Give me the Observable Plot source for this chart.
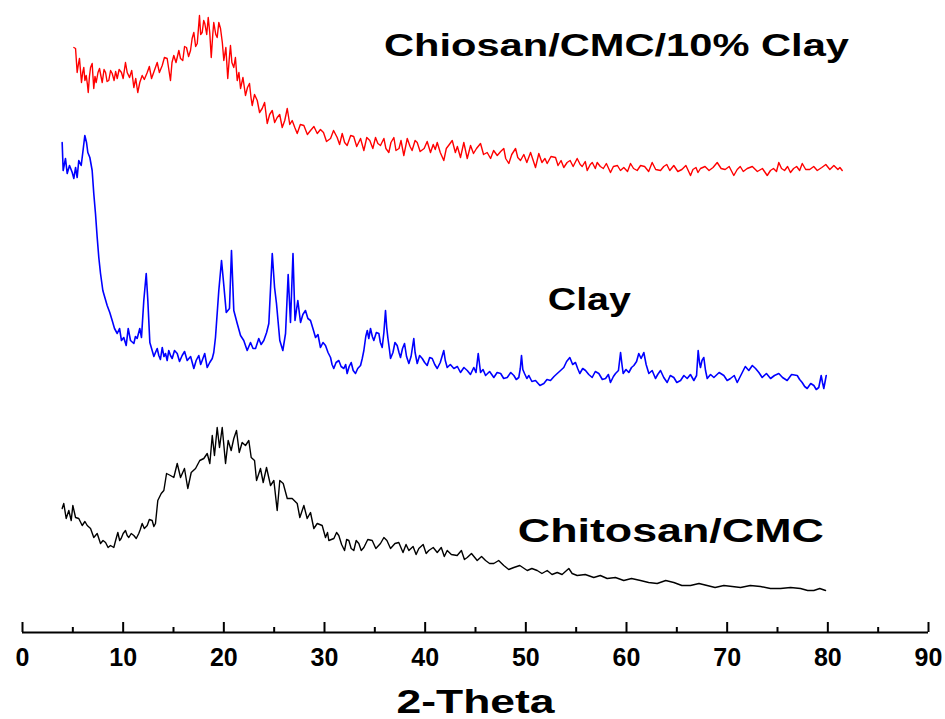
<!DOCTYPE html>
<html><head><meta charset="utf-8">
<script src="https://cdn.jsdelivr.net/npm/d3@7"></script>
<script src="https://cdn.jsdelivr.net/npm/@observablehq/plot@0.6"></script>
<style>body{margin:0;background:#fff;} #chart svg{display:block;}</style>
</head><body><div id="chart"></div>
<script>
// 2-theta (deg), intensity (a.u., stacked as displayed)
const composite = [[5.10,585],[5.27,584],[5.43,560],[5.55,568],[5.66,574],[5.86,550],[5.98,560],[6.09,565],[6.2,552],[6.33,557],[6.45,548],[6.53,540],[6.65,556],[6.76,565],[6.92,569],[7.0,556],[7.08,544],[7.2,556],[7.32,550],[7.5,560],[7.65,564],[7.8,556],[7.92,550],[8.1,563],[8.25,560],[8.4,551],[8.57,552],[8.75,562],[8.91,559],[9.1,552],[9.25,561],[9.41,554],[9.6,563],[9.83,560],[10.0,554],[10.23,570],[10.4,560],[10.63,555],[10.85,562],[11.06,545],[11.25,554],[11.45,540],[11.65,550],[11.89,557],[12.1,553],[12.39,560],[12.6,566],[12.82,554],[13.1,562],[13.38,570],[13.6,560],[13.88,567],[14.1,575],[14.37,574],[14.55,562],[14.70,552],[14.85,570],[15.03,577],[15.25,570],[15.53,582],[15.7,574],[15.92,572],[16.1,586],[16.29,585],[16.5,576],[16.69,582],[16.85,594],[17.02,600],[17.2,586],[17.36,589],[17.58,617],[17.7,598],[17.85,600],[18.0,612],[18.11,609],[18.3,598],[18.45,615],[18.6,600],[18.75,575],[18.9,598],[19.00,610],[19.2,598],[19.34,595],[19.5,610],[19.67,604],[19.85,590],[20.00,572],[20.2,585],[20.39,554],[20.55,575],[20.66,587],[20.8,570],[20.99,565],[21.15,575],[21.33,552],[21.5,560],[21.66,544],[21.9,555],[22.15,537],[22.35,545],[22.55,549],[22.7,535],[22.82,527],[23.05,538],[23.32,532],[23.55,520],[23.81,524],[24.05,530],[24.31,509],[24.55,518],[24.81,522],[25.05,510],[25.30,515],[25.55,518],[25.80,505],[26.05,512],[26.30,524],[26.55,508],[26.79,512],[27.05,505],[27.29,499],[27.6,508],[27.95,507],[28.3,498],[28.61,502],[28.95,506],[29.28,499],[29.6,503],
[29.9,500],[30.2,491],[30.6,494],[30.9,502],[31.26,495],[31.5,488],[31.76,499],[32.0,490],[32.25,487],[32.6,497],[32.9,496],[33.2,486],[33.58,494],[33.91,482],[34.2,495],[34.5,492],[34.8,484],[35.07,495],[35.3,489],[35.56,487],[35.9,494],[36.1,484],[36.39,480],[36.6,490],[36.89,495],[37.1,482],[37.4,484],[37.6,492],[37.88,477],[38.22,494],[38.5,486],[38.7,482],[39.0,492],[39.21,490],[39.5,481],[39.9,484],[40.2,491],[40.53,480],[40.8,488],[41.0,483],[41.20,490],[41.5,480],[41.85,472],[42.1,484],[42.4,488],[42.69,492],[43.0,480],[43.2,486],[43.51,475],[43.84,490],[44.18,474],[44.51,487],[44.8,479],[45.1,484],[45.50,489],[45.8,478],[46.16,480],[46.5,474],[46.8,482],[47.16,477],[47.5,481],[47.81,484],[48.0,474],[48.31,469],[48.6,478],[48.98,484],[49.2,475],[49.47,472],[49.8,478],[50.1,470],[50.47,480],[50.7,473],[50.96,465],[51.29,479],[51.6,470],[51.9,474],[52.12,469],[52.5,476],[52.95,475],[53.2,467],[53.5,472],[53.77,465],[54.1,470],[54.4,472],[54.7,466],[55.10,474],[55.4,468],[55.6,466],[55.9,471],[56.10,462],[56.4,468],[56.6,470],[56.9,464],[57.09,470],[57.4,466],[57.7,464],[58.0,469],[58.41,460],[58.7,466],[59.1,467],[59.4,462],[59.73,465],[60.1,461],[60.4,469],[60.7,464],[61.06,462],[61.4,467],[61.8,466],[62.2,461],[62.55,470],[62.9,463],[63.38,462],[63.7,466],[64.0,468],[64.3,462],[64.70,467],[65.1,461],[65.5,463],[65.9,467],[66.36,457],[66.6,463],[66.9,465],[67.1,460],[67.35,464],[67.8,466],[68.2,462],[68.6,465],[69.01,470],[69.4,464],[69.8,463],[70.2,466],[70.66,457],[71.0,463],[71.3,466],[71.6,461],[71.99,464],[72.5,466],[73.0,461],[73.5,464],[73.98,457],[74.3,462],[74.6,464],[74.9,461],[75.13,470],[75.4,464],[75.7,462],[76.0,466],[76.29,460],[76.6,464],[76.9,466],[77.2,462],[77.46,469],[77.8,463],[78.2,463],[78.6,466],[78.95,462],[79.4,465],[79.8,468],[80.2,463],[80.60,467],[81.0,463],[81.2,465],[81.43,462]];

const clay = [[3.94,490],[4.04,462],[4.27,474],[4.44,459],[4.67,467],[4.94,460],[5.10,454],[5.27,465],[5.43,455],[5.59,472],[5.83,467],[5.99,480],[6.19,497],[6.36,490],[6.49,480],[6.69,475],[6.92,462],[7.08,439],[7.25,419],[7.42,395],[7.58,375],[7.75,359],[7.98,342],[8.18,335],[8.41,327],[8.67,320],[8.91,312],[9.14,304],[9.41,299],[9.64,304],[9.83,292],[10.06,295],[10.30,287],[10.50,304],[10.73,292],[11.06,289],[11.22,296],[11.39,294],[11.65,304],[11.82,295],[12.05,332],[12.29,359],[12.45,332],[12.65,290],[12.88,282],[13.05,276],[13.21,280],[13.38,284],[13.54,277],[13.7,273],[13.88,285],[14.05,276],[14.21,279],[14.37,272],[14.53,282],[14.7,277],[14.87,274],[15.1,282],[15.37,279],[15.6,271],[15.86,277],[16.1,281],[16.36,272],[16.7,276],[17.02,264],[17.25,272],[17.51,277],[17.7,268],[17.85,272],[18.1,279],[18.35,265],[18.6,270],[18.85,274],[19.0,280],[19.17,295],[19.50,342],[19.77,372],[20.00,347],[20.24,320],[20.56,324],[20.76,382],[20.99,322],[21.33,309],[21.66,297],[21.98,292],[22.32,282],[22.65,290],[22.9,284],[23.15,284],[23.47,294],[23.7,288],[23.97,292],[24.25,300],[24.47,309],[24.81,379],[25.04,345],[25.23,329],[25.56,292],[25.86,282],[26.13,299],[26.39,358],[26.62,310],[26.87,379],[27.07,312],[27.35,332],[27.62,310],[27.85,318],[28.11,322],[28.35,314],[28.61,312],[28.85,304],[29.11,295],[29.35,298],[29.60,285],[29.85,290],[30.10,287],[30.35,280],[30.60,275],[30.75,268],[30.92,264],[31.15,270],[31.42,272],[31.65,266],[31.92,264],[32.1,268],[32.25,259],[32.45,266],[32.65,270],[32.85,262],[33.08,259],[33.3,264],[33.58,267],[33.75,274],[33.91,282],[34.1,296],[34.25,302],[34.4,294],[34.57,304],[34.75,296],[34.90,292],[35.15,300],[35.40,299],[35.55,290],[35.73,285],[35.9,300],[36.06,322],[36.18,305],[36.29,295],[36.45,283],[36.56,274],[36.8,280],[37.0,290],[37.22,287],[37.4,280],[37.55,275],[37.75,284],[37.95,289],[38.15,276],[38.38,269],[38.6,276],[38.87,294],[39.0,280],[39.21,269],[39.45,277],[39.71,274],[39.95,270],[40.20,267],[40.45,275],[40.70,274],[40.95,268],[41.20,264],[41.5,270],[41.85,282],[42.0,272],[42.19,265],[42.5,268],[42.85,264],[43.2,266],[43.51,260],[43.85,265],[44.18,262],[44.5,258],[44.83,265],[45.05,260],[45.27,279],[45.50,260],[45.75,263],[46.00,257],[46.4,261],[46.82,255],[47.15,260],[47.5,259],[47.8,254],[48.15,255],[48.5,260],[48.81,257],[49.05,253],[49.30,255],[49.45,264],[49.57,277],[49.7,263],[49.87,259],[50.1,254],[50.30,257],[50.6,251],[50.96,252],[51.4,247],[51.79,249],[52.1,253],[52.45,252],[52.8,256],[53.12,259],[53.45,262],[53.77,265],[54.05,271],[54.37,275],[54.65,268],[54.93,270],[55.15,264],[55.36,259],[55.65,264],[55.93,262],[56.25,258],[56.59,255],[56.9,261],[57.25,259],[57.6,253],[57.92,254],[58.2,258],[58.41,250],[58.7,256],[58.91,259],[59.2,262],[59.41,280],[59.55,268],[59.67,259],[59.95,263],[60.23,260],[60.5,265],[60.73,267],[61.0,271],[61.22,279],[61.45,274],[61.72,280],[61.95,268],[62.22,259],[62.55,262],[62.88,254],[63.1,258],[63.38,262],[63.7,255],[64.04,250],[64.35,257],[64.70,255],[65.0,250],[65.37,252],[65.7,257],[66.03,254],[66.35,258],[66.69,252],[66.96,257],[67.12,282],[67.25,270],[67.35,265],[67.5,272],[67.68,275],[67.85,262],[68.02,254],[68.35,258],[68.68,255],[69.2,260],[69.67,257],[70.0,252],[70.33,254],[70.7,257],[71.00,250],[71.25,255],[71.50,260],[71.8,266],[72.15,262],[72.5,267],[72.82,264],[73.15,260],[73.48,255],[73.9,259],[74.31,254],[74.7,257],[75.13,259],[75.5,255],[75.96,252],[76.4,258],[76.96,257],[77.2,253],[77.45,250],[77.7,246],[77.95,244],[78.3,249],[78.61,247],[78.85,243],[79.10,245],[79.34,257],[79.47,250],[79.60,244],[79.84,257]];

const chitosanCmc = [[3.94,124],[4.10,129],[4.34,114],[4.60,122],[4.84,112],[5.00,127],[5.27,115],[5.59,114],[5.93,107],[6.2,111],[6.43,107],[6.76,104],[7.08,95],[7.42,99],[7.75,89],[8.0,92],[8.25,90],[8.5,85],[8.74,87],[9.07,85],[9.25,92],[9.47,100],[9.65,92],[9.80,94],[10.0,99],[10.23,102],[10.4,97],[10.56,95],[10.8,99],[11.06,97],[11.3,94],[11.55,99],[11.7,103],[11.89,109],[12.1,104],[12.39,107],[12.6,113],[12.88,112],[13.05,106],[13.21,109],[13.44,132],[13.78,139],[14.04,142],[14.31,159],[14.70,157],[15.03,155],[15.37,169],[15.70,155],[16.09,164],[16.42,144],[16.76,160],[17.19,164],[17.61,172],[18.01,174],[18.35,179],[18.61,169],[18.85,197],[19.07,177],[19.34,205],[19.57,185],[19.84,205],[20.17,169],[20.43,192],[20.73,182],[20.99,194],[21.26,202],[21.53,180],[21.82,190],[22.15,187],[22.48,192],[22.72,175],[23.05,172],[23.25,152],[23.64,164],[23.91,150],[24.24,165],[24.64,147],[24.97,152],[25.30,122],[25.56,152],[25.90,149],[26.30,134],[26.79,134],[27.29,129],[27.55,115],[27.95,127],[28.28,114],[28.61,120],[28.94,104],[29.28,109],[29.77,107],[30.10,95],[30.3,100],[30.43,92],[30.93,94],[31.2,100],[31.42,97],[31.7,88],[31.99,82],[32.2,93],[32.42,92],[32.65,84],[32.91,82],[33.15,92],[33.41,89],[33.65,82],[33.91,85],[34.3,93],[34.74,92],[35.1,84],[35.56,89],[35.9,95],[36.2,92],[36.56,84],[37.0,89],[37.38,90],[37.8,80],[38.1,88],[38.38,82],[38.8,86],[39.1,78],[39.37,84],[39.8,88],[40.1,79],[40.36,82],[40.8,85],[41.20,80],[41.6,85],[41.9,76],[42.19,82],[42.6,78],[43.18,77],[43.6,82],[43.9,73],[44.18,75],[44.6,79],[45.17,72],[45.6,76],[46.00,72],[46.4,69],[46.82,69],[47.3,72],[47.81,67],[48.3,63],[48.81,65],[49.4,67],[50.14,62],[50.6,64],[51.13,62],[51.6,59],[52.12,62],[52.6,58],[53.12,60],[53.6,58],[54.27,64],[54.6,59],[55.10,57],[55.9,58],[56.75,55],[57.4,57],[58.08,54],[58.9,55],[59.73,52],[60.5,54],[61.39,52],[62.2,50],[63.05,49],[63.9,52],[64.70,50],[65.5,47],[66.36,47],[67.2,49],[68.01,47],[68.8,45],[69.67,47],[70.5,46],[71.33,45],[72.3,47],[73.31,46],[74.3,44],[75.30,44],[76.3,45],[77.28,44],[78.0,42],[78.61,42],[79.2,44],[79.77,42]];

const majorTicks = [0,10,20,30,40,50,60,70,80,90];
const minorTicks = [5,15,25,35,45,55,65,75,85];
const xTitle = "2-Theta";

// series annotations (anchor in data units) and their drawn widths
const labels = [
  {text: "Chiosan/CMC/10% Clay", x: 59.0, y: 577, size: 32, len: 465},
  {text: "Clay", x: 56.3, y: 323, size: 31, len: 83},
  {text: "Chitosan/CMC", x: 64.4, y: 91, size: 34, len: 306}
];
const titleWidth = 158;

const xy = {x: d => d[0], y: d => d[1]};
const plot = Plot.plot({
  width: 945, height: 719,
  marginLeft: 22, marginRight: 17, marginTop: 0, marginBottom: 87,
  x: {domain: [0, 90], axis: null},
  y: {domain: [0, 632], axis: null},
  style: {background: "white", fontFamily: "'Liberation Sans', Arial, sans-serif", overflow: "visible"},
  marks: [
    Plot.line(chitosanCmc, {...xy, stroke: "#000000", strokeWidth: 1.4}),
    Plot.line(clay, {...xy, stroke: "#0000ff", strokeWidth: 1.6}),
    Plot.line(composite, {...xy, stroke: "#ff0000", strokeWidth: 1.4}),
    Plot.ruleY([0], {stroke: "#000", strokeWidth: 2}),
    Plot.ruleX(majorTicks, {y1: 0, y2: 10, stroke: "#000", strokeWidth: 2}),
    Plot.ruleX(minorTicks, {y1: 0, y2: 5, stroke: "#000", strokeWidth: 2}),
    Plot.axisX(majorTicks, {tickSize: 0, tickPadding: 16, fontSize: 25, fontWeight: "bold", fill: "#000",
      fontFamily: "'Liberation Sans', Arial, sans-serif", label: null}),
    Plot.text([xTitle], {frameAnchor: "bottom", dy: 80, lineAnchor: "bottom", fontSize: 33, fontWeight: "bold",
      fill: "#000", className: "xtitle"}),
    Plot.text(labels, {x: "x", y: "y", text: "text", fontSize: d => d.size, fontWeight: "bold",
      lineAnchor: "bottom", textAnchor: "middle", fill: "#000", className: "lbl"})
  ]
});
d3.select(plot).selectAll("g.lbl text").each(function() {
  const L = labels.find(l => l.text === this.textContent);
  if (L) { this.setAttribute("textLength", L.len); this.setAttribute("lengthAdjust", "spacingAndGlyphs"); }
});
d3.select(plot).selectAll("g.xtitle text").attr("textLength", titleWidth).attr("lengthAdjust", "spacingAndGlyphs");
document.getElementById("chart").appendChild(plot);
</script>
</body></html>
